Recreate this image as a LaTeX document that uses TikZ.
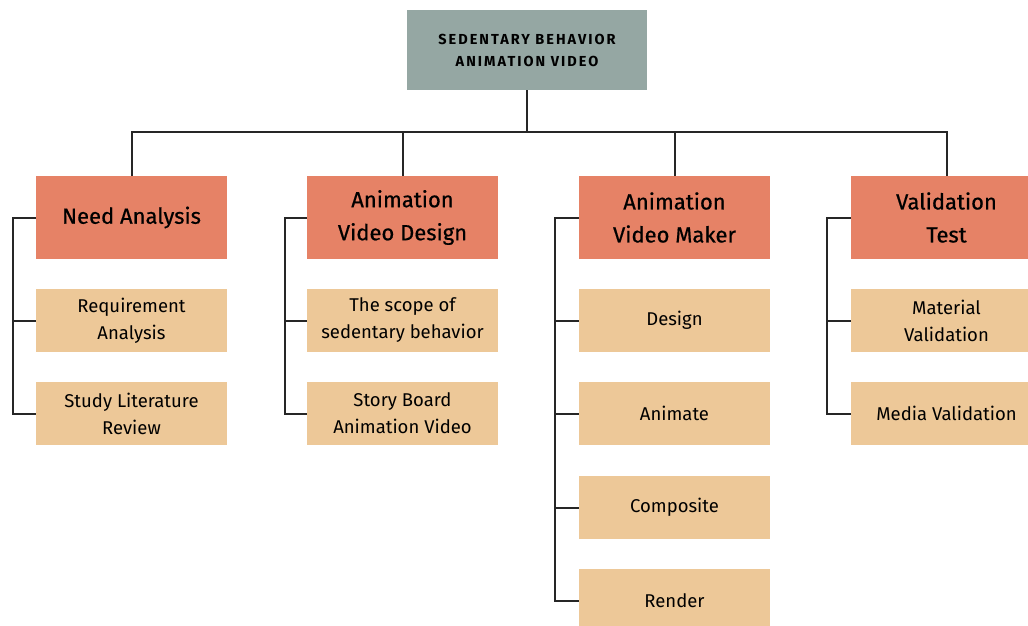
\documentclass[tikz,border=0pt]{standalone}
\usepackage{fontspec}
\setmainfont{Fira Sans}
\begin{document}
\begin{tikzpicture}[x=1pt,y=-1pt,
  rootbox/.style={fill=rootgray,minimum width=240pt,minimum height=80pt,inner sep=0pt,align=center,
    font=\fontsize{14.5}{22}\selectfont\bfseries\addfontfeature{LetterSpace=14}},
  topbox/.style={fill=topred,minimum width=191pt,minimum height=83pt,inner sep=0pt,align=center,
    font=\fontsize{22}{33}\selectfont\addfontfeature{FakeBold=0.6}},
  subbox/.style={fill=subtan,minimum width=191pt,minimum height=63pt,inner sep=0pt,align=center,
    font=\fontsize{18.5}{27}\selectfont},
  link/.style={line width=2pt,black!85}]
\definecolor{rootgray}{HTML}{95A7A3}
\definecolor{topred}{HTML}{E68266}
\definecolor{subtan}{HTML}{EDC898}
\useasboundingbox (0,0) rectangle (1028,625);
\clip (0,0) rectangle (1028,625);
\fill[white] (0,0) rectangle (1028,625);

% root
\node[rootbox] (root) at (527,50) {SEDENTARY BEHAVIOR\\ANIMATION VIDEO};

% first level
\node[topbox] (na) at (131.5,217.5) {Need Analysis};
\node[topbox] (avd) at (402.5,217.5) {Animation\\Video Design};
\node[topbox] (avm) at (674.5,217.5) {Animation\\Video Maker};
\node[topbox] (vt) at (946.5,217.5) {Validation\\Test};

% second level
\node[subbox] (ra) at (131.5,320.5) {Requirement\\Analysis};
\node[subbox] (sl) at (131.5,413.5) {Study Literature\\Review};
\node[subbox] (sc) at (402.5,320.5) {The scope of\\sedentary behavior};
\node[subbox] (sb) at (402.5,413.5) {Story Board\\Animation Video};
\node[subbox] (de) at (674.5,320.5) {Design};
\node[subbox] (an) at (674.5,413.5) {Animate};
\node[subbox] (co) at (674.5,507.5) {Composite};
\node[subbox] (re) at (674.5,600.5) {Render};
\node[subbox] (mv) at (946.5,320.5) {Material\\Validation};
\node[subbox] (me) at (946.5,413.5) {Media Validation};

% tree from root to first level
\coordinate (bus) at (527,132);
\draw[link] (root.south) -- (bus);
\draw[link] (na.north) |- (bus) -| (vt.north);
\draw[link] (avd.north) -- (avd.north |- bus);
\draw[link] (avm.north) -- (avm.north |- bus);

% brackets down the left side of each column
\foreach \top/\last/\xb in {na/sl/13, avd/sb/285, avm/re/555, vt/me/827}{
  \draw[link] (\top.west) -- (\xb,0 |- \top.west) |- (\last.west);
}
\foreach \c/\xb in {ra/13, sc/285, de/555, an/555, co/555, mv/827}{
  \draw[link] (\xb,0 |- \c.west) -- (\c.west);
}
\end{tikzpicture}
\end{document}
